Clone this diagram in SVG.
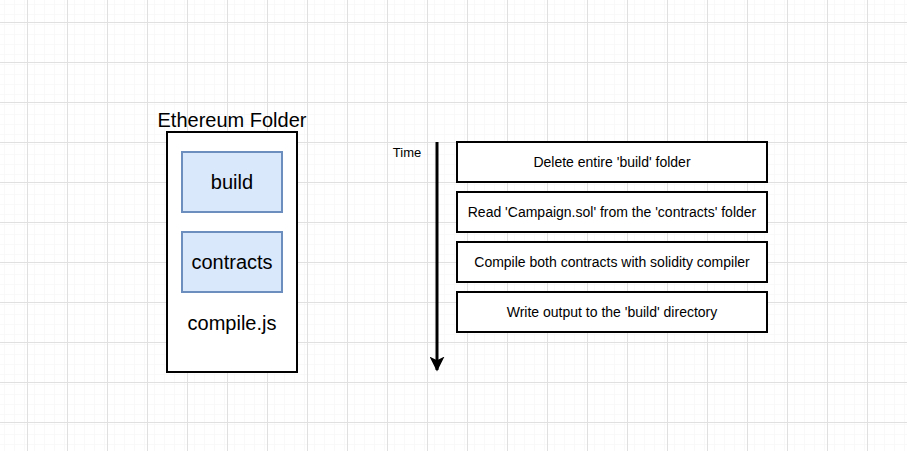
<svg xmlns="http://www.w3.org/2000/svg" width="907" height="451" viewBox="0 0 907 451">
<defs>
<pattern id="minor" x="7" y="2" width="10" height="10" patternUnits="userSpaceOnUse">
<path d="M0 0H10M0 0V10" fill="none" stroke="#f3f3f3" stroke-width="1"/>
</pattern>
<pattern id="major" x="27" y="22" width="40" height="40" patternUnits="userSpaceOnUse">
<rect width="40" height="40" fill="url(#minor)"/>
<path d="M0 0.5H40M0.5 0V40" fill="none" stroke="#e0e0e0" stroke-width="1"/>
</pattern>
<marker id="arr" viewBox="0 0 10 10" refX="9" refY="5" markerWidth="5" markerHeight="5" orient="auto" markerUnits="strokeWidth">
<path d="M0 0L10 5L0 10L2.5 5Z" fill="#000"/>
</marker>
<style>
text{font-family:"Liberation Sans",Arial,sans-serif;fill:#000;text-anchor:middle}
.big{font-size:20px}
.step{font-size:14px}
.box{fill:#fff;stroke:#000;stroke-width:2}
.sub{fill:#dae8fc;stroke:#6c8ebf;stroke-width:2}
</style>
</defs>
<rect width="907" height="451" fill="#fff"/>
<rect width="907" height="451" fill="url(#major)"/>
<g id="ethereum-folder">
<rect class="box" x="167" y="132" width="130" height="240"/>
<text class="big" x="232" y="127">Ethereum Folder</text>
<text class="big" x="232" y="330">compile.js</text>
</g>
<g id="build">
<rect class="sub" x="182" y="152" width="100" height="60"/>
<text class="big" x="232" y="189">build</text>
</g>
<g id="contracts">
<rect class="sub" x="182" y="232" width="100" height="60"/>
<text class="big" x="232" y="269">contracts</text>
</g>
<g id="time-label">
<text x="407" y="157" style="font-size:13px">Time</text>
</g>
<g id="step1">
<rect class="box" x="457" y="142" width="310" height="40"/>
<text class="step" x="612" y="167">Delete entire 'build' folder</text>
</g>
<g id="step2">
<rect class="box" x="457" y="192" width="310" height="40"/>
<text class="step" x="612" y="217">Read 'Campaign.sol' from the 'contracts' folder</text>
</g>
<g id="step3">
<rect class="box" x="457" y="242" width="310" height="40"/>
<text class="step" x="612" y="267">Compile both contracts with solidity compiler</text>
</g>
<g id="step4">
<rect class="box" x="457" y="292" width="310" height="40"/>
<text class="step" x="612" y="317">Write output to the 'build' directory</text>
</g>
<g id="connectors">
<line x1="437" y1="142" x2="437" y2="370" stroke="#000" stroke-width="3" marker-end="url(#arr)"/>
</g>
</svg>
